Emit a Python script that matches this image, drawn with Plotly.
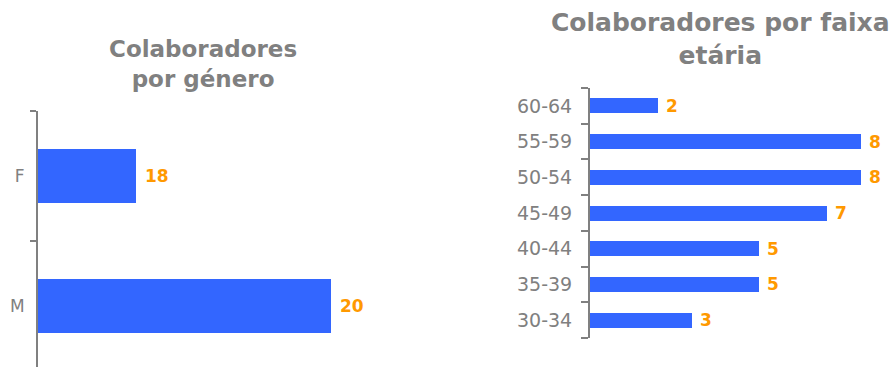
import plotly.graph_objects as go

# Figure size in pixels
W, H = 890, 367

# Gender breakdown
genero_cats = ["M", "F"]
genero_vals = [20, 18]

# Age-band breakdown
faixa_cats = ["30-34", "35-39", "40-44", "45-49", "50-54", "55-59", "60-64"]
faixa_vals = [3, 5, 5, 7, 8, 8, 2]

titulo_genero = "Colaboradores<br>por género"
titulo_faixa = "Colaboradores por faixa<br>etária"

BAR = "#3366ff"
LABEL = "#ff9900"
GREY = "#808080"
FONT = "DejaVu Sans"


def dom_x(left, right):
    return [left / W, right / W]


def dom_y(top, bottom):
    return [(H - bottom) / H, (H - top) / H]


fig = go.Figure()

fig.add_trace(go.Bar(
    x=genero_vals, y=genero_cats, orientation="h", width=0.41,
    marker=dict(color=BAR, line_width=0), xaxis="x", yaxis="y",
))
fig.add_trace(go.Bar(
    x=faixa_vals, y=faixa_cats, orientation="h", width=0.42,
    marker=dict(color=BAR, line_width=0), xaxis="x2", yaxis="y2",
))

annotations = []
# value labels next to each bar
for cat, val in zip(genero_cats, genero_vals):
    annotations.append(dict(
        x=val, y=cat, xref="x", yref="y", text=str(val), showarrow=False,
        xanchor="left", yanchor="middle", xshift=7,
        font=dict(family=FONT, size=17, color=LABEL, weight="bold"),
    ))
for cat, val in zip(faixa_cats, faixa_vals):
    annotations.append(dict(
        x=val, y=cat, xref="x2", yref="y2", text=str(val), showarrow=False,
        xanchor="left", yanchor="middle", xshift=6,
        font=dict(family=FONT, size=17, color=LABEL, weight="bold"),
    ))

# chart titles
annotations.append(dict(
    x=203 / W, y=(H - 64) / H, xref="paper", yref="paper", text=titulo_genero,
    showarrow=False, xanchor="center", yanchor="middle", align="center",
    font=dict(family=FONT, size=23, color=GREY, weight="bold"),
))
annotations.append(dict(
    x=720 / W, y=(H - 39) / H, xref="paper", yref="paper", text=titulo_faixa,
    showarrow=False, xanchor="center", yanchor="middle", align="center",
    font=dict(family=FONT, size=25, color=GREY, weight="bold"),
))

cat_axis = dict(
    type="category", showline=True, linecolor=GREY, linewidth=2,
    ticks="outside", tickcolor=GREY, tickwidth=2, tickson="boundaries",
    showgrid=False, zeroline=False, fixedrange=True,
)

fig.update_layout(
    width=W, height=H,
    margin=dict(l=0, r=0, t=0, b=0),
    paper_bgcolor="white", plot_bgcolor="white",
    showlegend=False, bargap=0,
    font=dict(family=FONT, color=GREY),
    annotations=annotations,
    xaxis=dict(domain=dom_x(38, 429), range=[17, 21], visible=False, anchor="y"),
    yaxis=dict(
        domain=dom_y(111, 367), range=[-0.47, 1.5], anchor="x",
        categoryorder="array", categoryarray=genero_cats,
        ticklen=6, ticklabelstandoff=8,
        tickfont=dict(family=FONT, size=17, color=GREY), **cat_axis,
    ),
    xaxis2=dict(domain=dom_x(590, 878), range=[0, 8.5], visible=False, anchor="y2"),
    yaxis2=dict(
        domain=dom_y(88, 338), range=[-0.5, 6.5], anchor="x2",
        categoryorder="array", categoryarray=faixa_cats,
        ticklen=7, ticklabelstandoff=12,
        tickfont=dict(family=FONT, size=19, color=GREY), **cat_axis,
    ),
)

fig.write_html("out.html")
